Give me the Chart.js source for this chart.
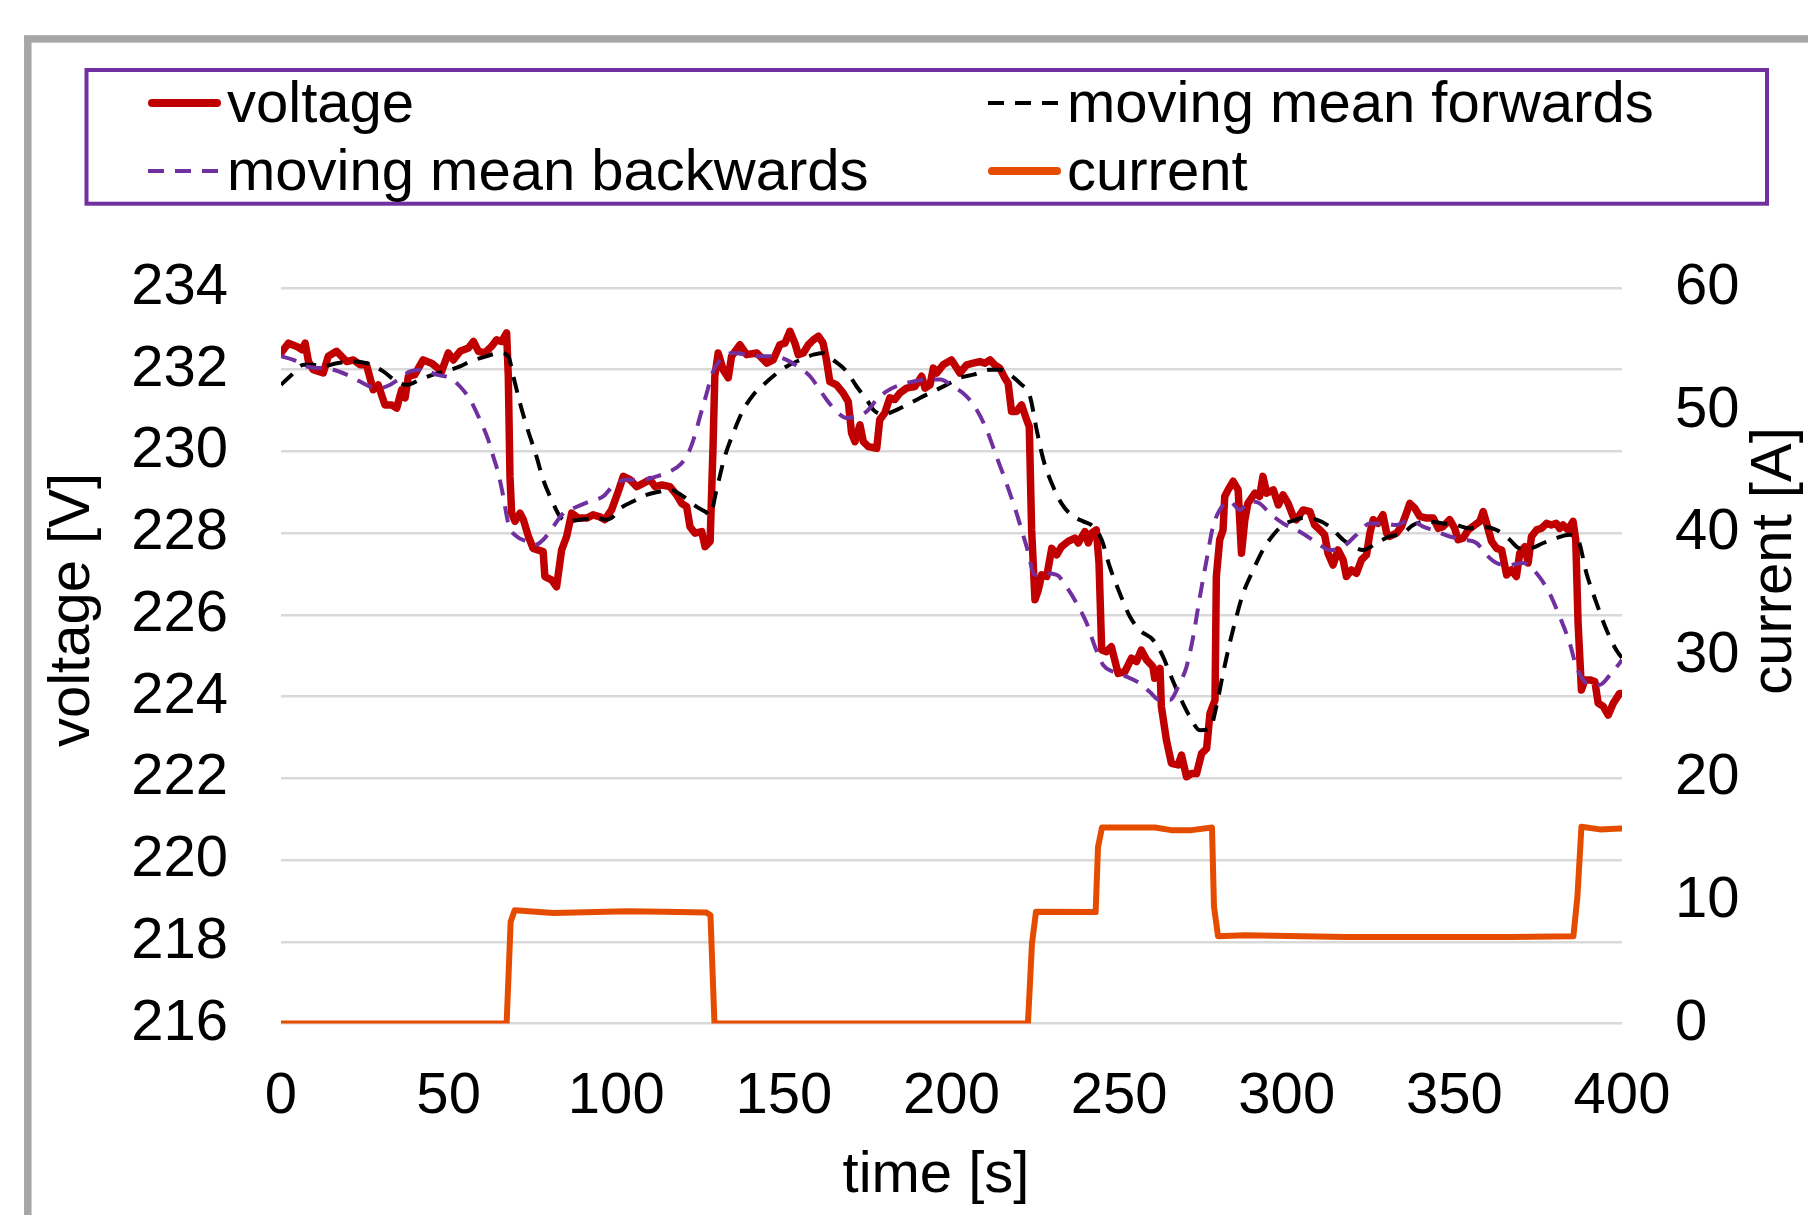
<!DOCTYPE html>
<html>
<head>
<meta charset="utf-8">
<script src="https://cdn.jsdelivr.net/npm/chart.js"></script>
<style>
    html, body { margin: 0; padding: 0; background: #fff; overflow: hidden; }
    canvas { display: block; }
</style>
</head>
<body>
<canvas id="myChart" width="1808" height="1215"></canvas>
<script>
let chart

// measured voltage, time [s] / value [V]
const voltageT = [0, 2.2, 4.7, 6.2, 7.2, 8.2, 9.6, 12.6, 14.1, 16.6, 19.6, 21.6, 23.6, 25.5, 27.5, 29.0, 31.0, 33.0, 34.5, 36.0,
    37.0, 38.0, 39.9, 42.4, 44.9, 47.9, 49.9, 51.4, 53.4, 55.9, 57.4, 58.9, 60.8, 62.8, 64.3, 65.8, 67.3, 67.8, 68.3, 68.8,
    69.8, 71.3, 72.3, 73.8, 75.2, 78.2, 78.7, 80.7, 82.2, 83.7, 85.2, 86.7, 88.7, 91.2, 93.1, 95.1, 96.6, 98.6, 100.6, 102.1,
    104.1, 106.1, 108.0, 110.1, 111.6, 113.6, 116.0, 118.0, 119.5, 121.0, 122.0, 123.5, 125.5, 126.5, 128.0, 128.9, 129.4, 130.4, 131.9, 133.4,
    134.4, 136.9, 138.9, 141.9, 144.9, 146.8, 148.8, 150.3, 151.8, 153.3, 154.3, 155.8, 157.3, 158.8, 160.3, 161.7, 162.7, 163.7, 165.7, 167.7,
    169.2, 170.2, 171.2, 172.7, 173.7, 175.2, 177.7, 178.6, 180.1, 181.6, 183.1, 184.6, 186.6, 189.1, 191.1, 192.1, 193.6, 194.6, 195.6, 197.5,
    200.0, 202.5, 204.5, 206.5, 208.5, 210.0, 211.5, 212.9, 214.4, 215.9, 216.9, 217.9, 219.4, 220.9, 222.4, 223.2, 223.9, 224.9, 225.9, 226.9,
    228.4, 229.9, 231.4, 232.8, 234.8, 236.8, 237.8, 239.8, 240.8, 241.8, 243.2, 244.0, 244.8, 246.2, 247.7, 249.7, 251.7, 253.7, 255.2, 256.6,
    258.2, 260.1, 260.6, 262.2, 262.6, 264.1, 265.6, 267.6, 268.6, 270.1, 271.6, 273.1, 274.6, 276.1, 277.1, 278.6, 279.0, 280.0, 281.0, 281.5,
    282.5, 284.0, 285.5, 286.5, 287.5, 288.4, 290.5, 291.9, 292.9, 294.0, 296.0, 297.5, 298.9, 300.4, 301.9, 302.9, 304.9, 306.9, 308.3, 309.9,
    311.3, 312.3, 313.8, 315.3, 316.8, 317.8, 319.3, 320.8, 322.3, 323.8, 324.8, 325.8, 327.2, 328.7, 329.8, 330.7, 332.7, 334.2, 335.7, 336.7,
    338.2, 339.7, 341.7, 343.7, 345.2, 346.6, 348.6, 350.1, 351.1, 352.6, 354.1, 356.1, 357.6, 358.6, 359.6, 361.1, 362.6, 364.1, 365.6, 367.0,
    368.5, 369.5, 371.0, 372.0, 373.0, 374.5, 376.0, 377.5, 378.9, 380.4, 381.4, 382.4, 383.9, 385.4, 386.2, 386.9, 387.9, 388.9, 390.4, 391.9,
    392.9, 394.4, 395.9, 397.4, 399.3, 400];
const voltageV = [232.41, 232.65, 232.57, 232.49, 232.65, 232.2, 232.0, 231.92, 232.33, 232.45, 232.2, 232.24, 232.12, 232.12, 231.51, 231.63, 231.14, 231.14, 231.06, 231.51,
    231.31, 231.84, 231.88, 232.24, 232.16, 231.96, 232.41, 232.24, 232.45, 232.53, 232.69, 232.45, 232.41, 232.57, 232.73, 232.69, 232.9, 231.84, 229.39, 228.49,
    228.29, 228.49, 228.33, 227.92, 227.63, 227.55, 226.94, 226.86, 226.69, 227.59, 227.92, 228.49, 228.37, 228.37, 228.45, 228.4, 228.33, 228.57, 229.02, 229.39,
    229.31, 229.14, 229.22, 229.31, 229.14, 229.18, 229.14, 228.94, 228.73, 228.65, 228.16, 228.0, 228.04, 227.67, 227.8, 230.2, 231.84, 232.41, 232.0, 231.8,
    232.33, 232.61, 232.37, 232.41, 232.16, 232.24, 232.61, 232.65, 232.94, 232.65, 232.37, 232.41, 232.61, 232.73, 232.82, 232.65, 232.24, 231.71, 231.63, 231.43,
    231.22, 230.45, 230.24, 230.65, 230.24, 230.12, 230.08, 230.78, 230.94, 231.31, 231.27, 231.43, 231.55, 231.59, 231.84, 231.55, 231.63, 232.04, 231.92, 232.12,
    232.24, 231.92, 232.12, 232.16, 232.2, 232.16, 232.24, 232.12, 232.04, 231.8, 231.67, 230.98, 230.98, 231.14, 230.78, 230.61, 228.08, 226.37, 226.61, 226.98,
    226.94, 227.63, 227.47, 227.67, 227.8, 227.88, 227.76, 228.04, 227.76, 228.0, 228.08, 227.27, 225.14, 225.1, 225.22, 224.57, 224.61, 224.94, 224.86, 225.14,
    224.9, 224.73, 224.45, 224.69, 223.76, 222.94, 222.37, 222.33, 222.57, 222.04, 222.12, 222.12, 222.61, 222.73, 223.59, 223.92, 226.94, 227.84, 228.08, 228.9,
    229.06, 229.27, 229.06, 227.51, 228.33, 228.73, 228.98, 228.9, 229.39, 228.98, 229.06, 228.69, 228.94, 228.73, 228.41, 228.33, 228.57, 228.53, 228.2, 228.08,
    227.96, 227.51, 227.22, 227.59, 227.35, 226.94, 227.1, 227.02, 227.35, 227.47, 228.0, 228.33, 228.24, 228.45, 228.0, 227.92, 228.0, 228.16, 228.49, 228.73,
    228.61, 228.41, 228.37, 228.37, 228.12, 228.16, 228.33, 228.12, 227.84, 227.88, 228.08, 228.2, 228.29, 228.53, 228.24, 227.8, 227.63, 227.59, 226.98, 227.1,
    226.94, 227.51, 227.67, 227.27, 227.92, 228.08, 228.12, 228.24, 228.2, 228.24, 228.12, 228.2, 228.08, 228.29, 227.84, 225.8, 224.16, 224.41, 224.41, 224.37,
    223.84, 223.76, 223.55, 223.84, 224.08, 224.08];

// moving mean forwards [V]
const forwardT = [0, 3.2, 6.7, 9.6, 12.6, 16.6, 20.6, 25.5, 30.5, 34.5, 37.5, 41.5, 45.4, 48.9, 53.4, 56.4, 61.3, 65.3, 67.8, 69.3,
    71.3, 73.3, 76.2, 78.2, 80.7, 83.2, 85.2, 89.2, 94.1, 97.1, 99.1, 101.1, 105.1, 109.0, 113.0, 116.0, 120.0, 123.9, 126.5, 128.0,
    129.9, 132.4, 134.9, 137.9, 140.9, 143.9, 146.8, 150.8, 154.8, 158.8, 161.7, 164.7, 168.7, 171.7, 174.7, 176.7, 179.6, 182.6, 186.6, 190.6,
    194.6, 198.5, 202.5, 206.5, 211.5, 214.4, 217.4, 220.4, 223.4, 225.4, 227.4, 229.9, 232.8, 236.3, 239.3, 242.3, 244.8, 247.2, 250.2, 253.2,
    256.1, 260.1, 263.1, 265.1, 268.1, 271.1, 274.1, 277.1, 279.0, 281.0, 283.0, 285.0, 287.0, 290.0, 292.9, 295.9, 298.9, 302.0, 304.9, 308.9,
    312.8, 316.8, 320.8, 322.8, 326.8, 330.7, 334.7, 337.7, 341.7, 346.6, 350.6, 354.6, 358.6, 362.6, 366.5, 369.5, 372.5, 376.5, 380.4, 384.4,
    386.9, 389.4, 392.4, 395.4, 398.3, 400];
const forwardV = [231.63, 231.88, 232.12, 232.12, 232.08, 232.16, 232.2, 232.16, 231.96, 231.71, 231.63, 231.76, 231.88, 231.96, 232.08, 232.2, 232.33, 232.41, 232.33, 231.84,
    231.18, 230.61, 229.88, 229.31, 228.82, 228.41, 228.29, 228.33, 228.37, 228.33, 228.41, 228.6, 228.78, 228.94, 229.02, 229.06, 228.9, 228.65, 228.53, 228.45,
    229.06, 229.88, 230.45, 231.02, 231.39, 231.63, 231.84, 232.08, 232.24, 232.37, 232.41, 232.24, 231.96, 231.59, 231.27, 231.02, 230.9, 230.98, 231.14, 231.31,
    231.47, 231.63, 231.8, 231.88, 232.0, 232.0, 231.88, 231.67, 231.35, 230.53, 229.8, 229.22, 228.73, 228.41, 228.29, 228.16, 227.84, 227.18, 226.53, 225.96,
    225.63, 225.39, 224.98, 224.57, 224.0, 223.51, 223.18, 223.22, 223.76, 224.57, 225.31, 225.96, 226.53, 227.1, 227.59, 227.95, 228.2, 228.31, 228.37, 228.33,
    228.16, 227.84, 227.63, 227.59, 227.76, 227.92, 228.0, 228.2, 228.29, 228.24, 228.2, 228.12, 228.16, 228.08, 227.84, 227.63, 227.63, 227.76, 227.88, 227.96,
    227.84, 227.02, 226.29, 225.63, 225.14, 224.95];

// moving mean backwards [V]
const backwardT = [0, 3.7, 7.7, 11.6, 15.6, 19.6, 23.6, 26.5, 29.5, 32.5, 35.0, 38.5, 42.4, 46.4, 50.4, 53.4, 56.4, 59.3, 61.8, 63.3,
    64.8, 66.3, 67.8, 70.3, 73.3, 75.7, 78.2, 81.2, 84.2, 87.2, 92.1, 96.1, 99.1, 103.1, 108.0, 112.0, 116.0, 119.0, 121.5, 123.5,
    125.0, 127.0, 128.5, 131.0, 135.0, 138.9, 142.9, 146.8, 150.8, 154.8, 157.8, 160.7, 162.7, 165.7, 168.7, 171.7, 174.7, 177.7, 180.6, 184.6,
    188.6, 192.5, 196.6, 200.5, 204.5, 207.5, 210.5, 213.4, 216.4, 219.4, 222.4, 224.9, 227.4, 231.4, 234.3, 237.3, 240.3, 242.8, 245.2, 248.2,
    252.2, 256.1, 259.1, 262.1, 265.1, 268.1, 270.1, 272.1, 274.1, 276.1, 278.0, 280.0, 283.0, 286.0, 289.0, 291.9, 294.9, 298.9, 302.9, 306.9,
    309.9, 312.8, 316.8, 320.8, 324.8, 328.7, 332.7, 336.7, 340.7, 344.7, 348.6, 352.6, 356.6, 359.6, 362.6, 366.5, 370.5, 374.5, 378.4, 381.4,
    384.4, 386.4, 388.9, 391.4, 393.4, 396.4, 399.3, 400];
const backwardV = [232.33, 232.24, 232.08, 232.04, 232.0, 231.88, 231.71, 231.59, 231.55, 231.63, 231.76, 231.96, 232.0, 231.88, 231.8, 231.59, 231.27, 230.78, 230.29, 229.88,
    229.47, 228.9, 228.24, 227.92, 227.8, 227.71, 227.84, 228.16, 228.49, 228.61, 228.78, 228.9, 229.16, 229.31, 229.31, 229.39, 229.51, 229.67, 229.96, 230.41,
    230.86, 231.43, 231.88, 232.24, 232.41, 232.37, 232.33, 232.33, 232.24, 232.04, 231.84, 231.51, 231.27, 230.98, 230.82, 230.86, 230.98, 231.27, 231.47, 231.63,
    231.71, 231.76, 231.76, 231.59, 231.35, 231.02, 230.53, 229.88, 229.22, 228.49, 227.67, 226.98, 227.02, 226.98, 226.69, 226.29, 225.8, 225.22, 224.78, 224.61,
    224.49, 224.33, 224.12, 223.92, 223.92, 224.33, 224.73, 225.47, 226.45, 227.35, 228.16, 228.57, 228.78, 228.57, 228.78, 228.73, 228.49, 228.24, 228.08, 227.88,
    227.71, 227.59, 227.67, 227.96, 228.24, 228.24, 228.2, 228.33, 228.16, 228.04, 227.92, 227.84, 227.76, 227.47, 227.27, 227.22, 227.27, 227.02, 226.53, 225.96,
    225.31, 224.73, 224.37, 224.29, 224.29, 224.53, 224.82, 224.9];

// current [A]
const currentT = [0, 67.3, 68.5, 69.7, 81.3, 103.2, 114.1, 126.9, 128.1, 129.3, 222.8, 224.0, 225.2, 243.0, 243.7, 244.9, 260.7, 265.5, 271.6, 277.7,
    278.3, 279.5, 287.5, 317.9, 366.6, 385.5, 386.7, 387.9, 393.4, 399.5, 400];
const currentA = [0, 0, 8.3, 9.25, 9.03, 9.17, 9.12, 9.06, 8.84, 0, 0, 6.53, 9.12, 9.1, 14.4, 16.0, 16.0, 15.78, 15.78, 16.0,
    9.52, 7.13, 7.21, 7.07, 7.07, 7.13, 10.34, 16.05, 15.84, 15.92, 15.92];

const FONT = "'Liberation Sans', Arial, sans-serif";
const DASH = [16, 11];
Chart.defaults.color = '#000';
Chart.defaults.font.size = 58;
Chart.defaults.font.family = FONT;

function points(xs, ys) {
    return xs.map((x, i) => ({x: x, y: ys[i]}));
}

// frame, legend box and the axis titles
const decor = {
    id: 'decor',
    afterDraw(chart) {
        const ctx = chart.ctx;
        ctx.save();
        ctx.strokeStyle = '#a6a6a6';
        ctx.lineWidth = 7.5;
        ctx.strokeRect(27.8, 38.9, 2000, 2000);

        ctx.strokeStyle = '#7030a0';
        ctx.lineWidth = 4;
        ctx.strokeRect(86.5, 70, 1680.5, 133.7);

        // legend entries in dataset order, two columns
        const slots = [[148, 103], [988, 103], [148, 171], [988, 171]];
        ctx.font = '58px ' + FONT;
        ctx.fillStyle = '#000';
        ctx.textBaseline = 'alphabetic';
        ctx.textAlign = 'left';
        chart.data.datasets.forEach((ds, i) => {
            const [x, y] = slots[i];
            const dashed = !!ds.borderDash;
            ctx.save();
            ctx.strokeStyle = ds.borderColor;
            ctx.lineWidth = dashed ? 4 : 8;
            ctx.lineCap = dashed ? 'butt' : 'round';
            ctx.setLineDash(dashed ? DASH : []);
            ctx.beginPath();
            ctx.moveTo(x + (dashed ? 0 : 4), y);
            ctx.lineTo(x + (dashed ? 73 : 69), y);
            ctx.stroke();
            ctx.restore();
            ctx.fillText(ds.label, x + 79, y + 19);
        });

        ctx.textAlign = 'center';
        ctx.textBaseline = 'middle';
        ctx.fillText('time [s]', 936, 1176);
        ctx.save();
        ctx.translate(73, 610);
        ctx.rotate(-Math.PI / 2);
        ctx.fillText('voltage [V]', 0, 0);
        ctx.restore();
        ctx.save();
        ctx.translate(1775, 561);
        ctx.rotate(-Math.PI / 2);
        ctx.fillText('current [A]', 0, 0);
        ctx.restore();
        ctx.restore();
    }
};

show_data();

function show_data() {
    const ctx = document.getElementById('myChart');
    const config = {
        type: 'line',
        data: {
            datasets: [
                {
                    label: 'voltage',
                    data: points(voltageT, voltageV),
                    yAxisID: 'y',
                    borderColor: '#c00000',
                    borderWidth: 7.5,
                    borderJoinStyle: 'round',
                    borderCapStyle: 'round',
                    pointRadius: 0,
                    tension: 0,
                    order: 3,
                },
                {
                    label: 'moving mean forwards',
                    data: points(forwardT, forwardV),
                    yAxisID: 'y',
                    borderColor: '#000000',
                    borderWidth: 4,
                    borderDash: DASH,
                    pointRadius: 0,
                    cubicInterpolationMode: 'monotone',
                    order: 2,
                },
                {
                    label: 'moving mean backwards',
                    data: points(backwardT, backwardV),
                    yAxisID: 'y',
                    borderColor: '#7030a0',
                    borderWidth: 4,
                    borderDash: DASH,
                    pointRadius: 0,
                    cubicInterpolationMode: 'monotone',
                    order: 1,
                },
                {
                    label: 'current',
                    data: points(currentT, currentA),
                    yAxisID: 'y1',
                    borderColor: '#e54c00',
                    borderWidth: 6,
                    borderJoinStyle: 'round',
                    borderCapStyle: 'round',
                    pointRadius: 0,
                    tension: 0,
                    order: 4,
                },
            ]
        },
        options: {
            responsive: false,
            animation: false,
            layout: {padding: {top: 288, left: 0, right: 0, bottom: 0}},
            plugins: {
                legend: {display: false},
                tooltip: {enabled: false},
            },
            scales: {
                x: {
                    type: 'linear',
                    min: 0,
                    max: 400,
                    grid: {display: false},
                    border: {display: false},
                    ticks: {stepSize: 50, padding: 31, maxRotation: 0, autoSkip: false},
                    afterFit: s => { s.height = 191.4; },
                },
                y: {
                    position: 'left',
                    min: 216,
                    max: 234,
                    grid: {color: '#d9d9d9', lineWidth: 2.5, drawTicks: false},
                    border: {display: false},
                    ticks: {stepSize: 2, padding: 53},
                    afterFit: s => { s.width = 281; },
                },
                y1: {
                    position: 'right',
                    min: 0,
                    max: 60,
                    grid: {display: false, drawTicks: false},
                    border: {display: false},
                    ticks: {stepSize: 10, padding: 53},
                    afterFit: s => { s.width = 186; },
                },
            }
        },
        plugins: [decor],
    };
    chart = new Chart(ctx, config);
}
</script>
</body>
</html>
